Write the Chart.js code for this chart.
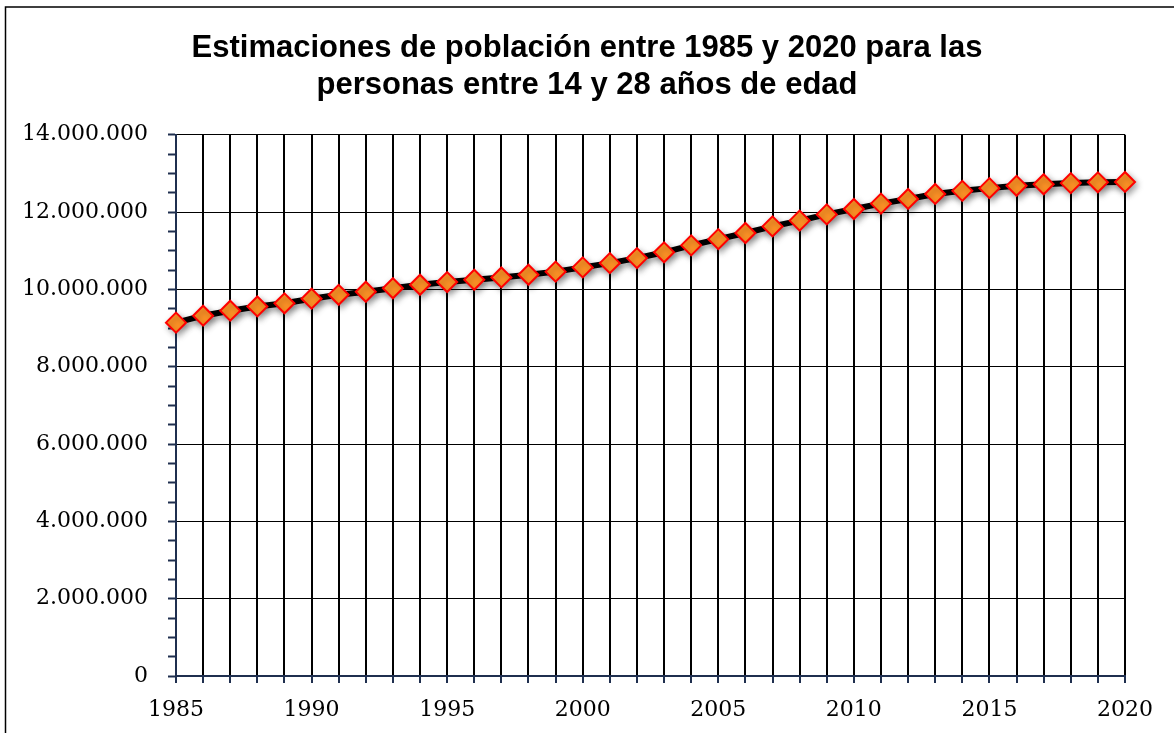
<!DOCTYPE html>
<html>
<head>
<meta charset="utf-8">
<script src="https://cdn.jsdelivr.net/npm/chart.js@4.4.1/dist/chart.umd.min.js"></script>
<style>
  html, body { margin: 0; padding: 0; background: #fff; }
  canvas { display: block; }
</style>
</head>
<body>
<canvas id="myChart" width="1174" height="733"></canvas>
<script>
var years = [1985, 1986, 1987, 1988, 1989, 1990, 1991, 1992, 1993, 1994,
             1995, 1996, 1997, 1998, 1999, 2000, 2001, 2002, 2003, 2004,
             2005, 2006, 2007, 2008, 2009, 2010, 2011, 2012, 2013, 2014,
             2015, 2016, 2017, 2018, 2019, 2020];

var poblacion = [9140000, 9320000, 9450000, 9560000, 9640000, 9760000, 9860000, 9940000, 10030000, 10120000,
                 10190000, 10250000, 10310000, 10380000, 10460000, 10570000, 10680000, 10810000, 10960000, 11140000,
                 11300000, 11460000, 11630000, 11780000, 11940000, 12080000, 12220000, 12340000, 12470000, 12550000,
                 12620000, 12680000, 12720000, 12750000, 12770000, 12780000];

var titleLines = ['Estimaciones de población entre 1985 y 2020 para las', 'personas entre 14 y 28 años de edad'];

function formatMiles(v) {
    return v.toString().replace(/\B(?=(\d{3})+(?!\d))/g, '.');
}

// marco exterior + sombra de la serie
var framePlugin = {
    id: 'frame',
    beforeDraw: function(chart) {
        var c = chart.ctx;
        c.save();
        c.fillStyle = '#ffffff';
        c.fillRect(0, 0, chart.width, chart.height);
        c.strokeStyle = '#000000';
        c.lineWidth = 1.5;
        c.beginPath();
        c.moveTo(5.5, chart.height + 2);
        c.lineTo(5.5, 7);
        c.lineTo(chart.width + 2, 7);
        c.stroke();
        c.restore();
    },
    beforeDatasetsDraw: function(chart) {
        var c = chart.ctx;
        c.save();
        c.shadowColor = 'rgba(0, 0, 0, 0.35)';
        c.shadowBlur = 6;
        c.shadowOffsetX = 2;
        c.shadowOffsetY = 3;
    },
    afterDatasetsDraw: function(chart) {
        chart.ctx.restore();
    }
};

var axisColor = '#1F2F4F';

var ctx = document.getElementById('myChart').getContext('2d');
var myChart = new Chart(ctx, {
    type: 'line',
    data: {
        labels: years,
        datasets: [{
            label: 'Población 14-28 años',
            data: poblacion,
            yAxisID: 'y',
            borderColor: '#000000',
            borderWidth: 6,
            pointStyle: 'rectRot',
            pointRadius: 10,
            pointBackgroundColor: '#FF9326',
            pointBorderColor: '#FF0000',
            pointBorderWidth: 2,
            fill: false,
            tension: 0,
            clip: false
        }]
    },
    options: {
        responsive: false,
        animation: false,
        layout: { padding: 0 },
        plugins: {
            legend: { display: false },
            tooltip: { enabled: false },
            title: {
                display: true,
                text: titleLines,
                color: '#000000',
                font: { family: '"Liberation Sans", Arial, sans-serif', size: 31, weight: 'bold', lineHeight: 1.19 },
                padding: { top: 30, bottom: 31 }
            }
        },
        scales: {
            x: {
                type: 'category',
                offset: false,
                grid: {
                    color: '#000000',
                    lineWidth: 2,
                    tickColor: axisColor,
                    tickLength: 7,
                    tickWidth: 2
                },
                border: { color: axisColor, width: 2 },
                ticks: {
                    autoSkip: false,
                    maxRotation: 0,
                    padding: 14,
                    color: '#000000',
                    font: { family: '"DejaVu Serif", serif', size: 22 },
                    callback: function(val, index) {
                        var y = years[index];
                        return (y % 5 === 0) ? String(y) : '';
                    }
                },
                afterFit: function(scale) { scale.height = 57; }
            },
            y: {
                min: 0,
                max: 14000000,
                grid: {
                    color: function(c) {
                        return (c.tick && c.tick.value % 2000000 === 0) ? '#000000' : 'rgba(0,0,0,0)';
                    },
                    lineWidth: 1,
                    tickColor: axisColor,
                    tickLength: 8,
                    tickWidth: 2
                },
                border: { color: axisColor, width: 2 },
                ticks: {
                    stepSize: 500000,
                    autoSkip: false,
                    padding: 20,
                    color: '#000000',
                    font: { family: '"DejaVu Serif", serif', size: 22 },
                    callback: function(value) {
                        return (value % 2000000 === 0) ? formatMiles(value) : '';
                    }
                },
                afterFit: function(scale) { scale.width = 176; }
            },
            // margen derecho vacío
            y2: {
                position: 'right',
                min: 0,
                max: 14000000,
                grid: { display: false, drawTicks: false },
                border: { display: false },
                ticks: { display: false },
                afterFit: function(scale) { scale.width = 49; }
            }
        }
    },
    plugins: [framePlugin]
});
</script>
</body>
</html>
